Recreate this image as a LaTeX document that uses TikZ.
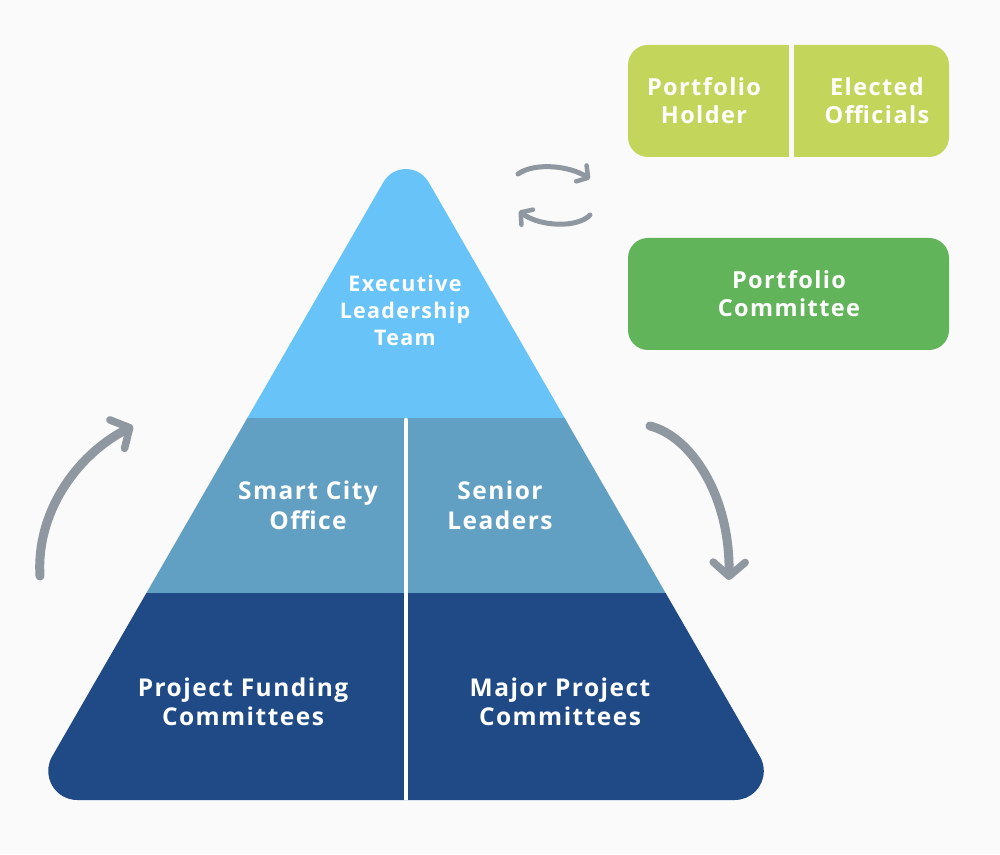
\documentclass[tikz,border=0pt]{standalone}
\usepackage{fontspec}
\setmainfont{Open Sans}[LetterSpace=6]
\usetikzlibrary{arrows.meta}
\definecolor{bgc}{HTML}{FAFAFA}
\definecolor{topblue}{HTML}{68C4F8}
\definecolor{midblue}{HTML}{619FC3}
\definecolor{darkblue}{HTML}{1F4A86}
\definecolor{lime}{HTML}{C3D55A}
\definecolor{leaf}{HTML}{62B45B}
\definecolor{agray}{HTML}{8F98A1}
\tikzset{
  lbl/.style={text=white, font=\fontsize{21.5}{27}\selectfont\bfseries, align=center, inner sep=0pt},
  lblm/.style={lbl, font=\fontsize{24.5}{30}\selectfont\bfseries},
  lblb/.style={lbl, font=\fontsize{24.5}{29}\selectfont\bfseries},
  lblr/.style={lbl, font=\fontsize{23.5}{28}\selectfont\bfseries},
  bigarrow/.style={draw=agray, line width=9pt, line cap=round, line join=round,
    -{Straight Barb[length=14pt,width=32pt,line width=7.5pt,round]}},
  smallarrow/.style={draw=agray, line width=5pt, line cap=round, line join=round,
    -{Straight Barb[length=8pt,width=19pt,line width=4.5pt,round]}}
}
\begin{document}
\begin{tikzpicture}[x=1pt,y=1pt]
\fill[bgc] (0,0) rectangle (1000,854);
\useasboundingbox (0,0) rectangle (1000,854);
% pyramid
\begin{scope}
\clip (27+50.2,54) -- (785-50.2,54)
  arc[start angle=270, end angle=390, radius=29]
  -- (406+22.5,711-39)
  arc[start angle=30, end angle=150, radius=26]
  -- (27+25.1,54+43.5)
  arc[start angle=150, end angle=270, radius=29] -- cycle;
\fill[topblue] (0,436) rectangle (1000,854);
\fill[midblue] (0,261) rectangle (1000,436);
\fill[darkblue] (0,0) rectangle (1000,261);
\draw[white, line width=4.5pt, line cap=round] (406,434) -- (406,30);
\end{scope}
% pyramid labels
\node[lbl] (elt) at (405,544) {Executive\\Leadership\\Team};
\node[lblm] (sco) at (308,349) {Smart City\\Office};
\node[lblm] (sl) at (500,349) {Senior\\Leaders};
\node[lblb] (pfc) at (243,152) {Project Funding\\Committees};
\node[lblb] (mpc) at (560,152) {Major Project\\Committees};
% right boxes
\fill[lime, rounded corners=20pt] (628,697) rectangle (949,809);
\fill[bgc] (788.5,690) rectangle (793.5,815);
\fill[leaf, rounded corners=20pt] (628,504) rectangle (949,616);
\node[lblr] (ph) at (704,753) {Portfolio\\Holder};
\node[lblr] (eo) at (877,753) {Elected\\Officials};
\node[lblr] (pc) at (789,560) {Portfolio\\Committee};
% arrows
\coordinate (la0) at (40,278);
\coordinate (la1) at (133,428);
\coordinate (ra0) at (650,428);
\coordinate (ra1) at (729,274);
\coordinate (ta0) at (518,680);
\coordinate (ta1) at (590,675);
\coordinate (ba0) at (590,639);
\coordinate (ba1) at (519,643);
\draw[bigarrow] (la0) .. controls (36,340) and (75,398) .. (la1);
\draw[bigarrow] (ra0) .. controls (690,418) and (730,360) .. (ra1);
\draw[smallarrow] (ta0) .. controls (535,692) and (570,688) .. (ta1);
\draw[smallarrow] (ba0) .. controls (578,626) and (540,627) .. (ba1);
\end{tikzpicture}
\end{document}
